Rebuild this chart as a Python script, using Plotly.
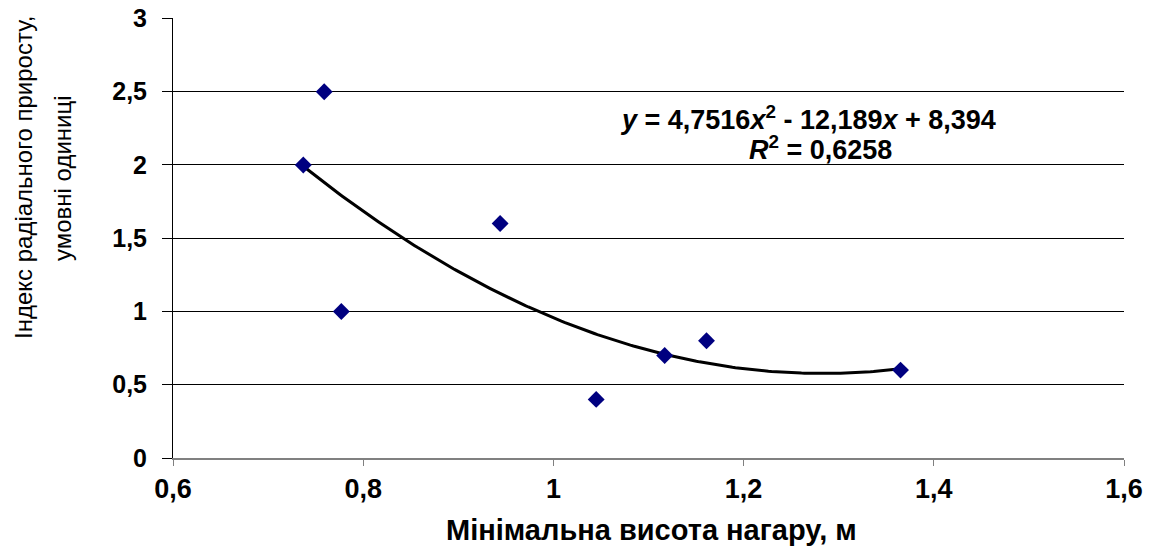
import numpy as np
import plotly.graph_objects as go

# Data
x_vals = [0.737, 0.759, 0.777, 0.944, 1.045, 1.117, 1.161, 1.365]
y_vals = [2.0, 2.5, 1.0, 1.6, 0.4, 0.7, 0.8, 0.6]

# Polynomial trendline coefficients shown on the chart (a, b, c)
trend_coef = [4.7516, -12.189, 8.394]
eq_line1 = "<i>y</i> = 4,7516<i>x</i><sup>2</sup> - 12,189<i>x</i> + 8,394"
eq_line2 = "<i>R</i><sup>2</sup> = 0,6258"

x_ticks = [0.6, 0.8, 1.0, 1.2, 1.4, 1.6]
x_ticklabels = ["0,6", "0,8", "1", "1,2", "1,4", "1,6"]
y_ticks = [0, 0.5, 1, 1.5, 2, 2.5, 3]
y_ticklabels = ["0", "0,5", "1", "1,5", "2", "2,5", "3"]

x_title = "Мінімальна висота нагару, м"
y_title_1 = "Індекс радіального приросту,"
y_title_2 = "умовні одиниці"

FONT = "Liberation Sans, Arial, sans-serif"

W, H = 1152, 547
L, R, T, B = 173, 28, 18, 89
PW, PH = W - L - R, H - T - B

tx = np.linspace(min(x_vals), max(x_vals), 200)
ty = np.polyval(trend_coef, tx)

fig = go.Figure()
fig.add_trace(go.Scatter(
    x=tx, y=ty, mode="lines",
    line=dict(color="black", width=3),
    hoverinfo="skip", showlegend=False,
))
fig.add_trace(go.Scatter(
    x=x_vals, y=y_vals, mode="markers",
    marker=dict(symbol="diamond", size=13, color="#000080",
                line=dict(width=0)),
    showlegend=False,
))

fig.update_layout(
    width=W, height=H,
    margin=dict(l=L, r=R, t=T, b=B),
    plot_bgcolor="white", paper_bgcolor="white",
    font=dict(family=FONT, color="black"),
    showlegend=False,
    xaxis=dict(
        range=[0.6, 1.6], tickvals=x_ticks, ticktext=x_ticklabels,
        showgrid=False, zeroline=False, automargin=False,
        showline=True, linecolor="#808080", linewidth=2,
        ticks="outside", ticklen=6, tickcolor="#808080", tickwidth=1,
        ticklabelstandoff=0, ticklabeloverflow="allow",
        tickfont=dict(family=FONT, size=27, color="black", weight="bold"),
    ),
    yaxis=dict(
        range=[0, 3.003], tickvals=y_ticks, ticktext=y_ticklabels,
        showgrid=True, gridcolor="black", gridwidth=1,
        zeroline=False, automargin=False,
        showline=True, linecolor="black", linewidth=1,
        ticks="outside", ticklen=10, tickcolor="black", tickwidth=1,
        ticklabelstandoff=10, ticklabeloverflow="allow",
        tickfont=dict(family=FONT, size=25, color="black", weight="bold"),
    ),
)

def py(pix):  # page y pixel -> paper fraction
    return (H - B - pix) / PH

def px(pix):  # page x pixel -> paper fraction
    return (pix - L) / PW

ann_font_b = dict(family=FONT, size=27, color="black", weight="bold")
fig.add_annotation(x=px(808), y=py(118), xref="paper", yref="paper", text=eq_line1,
                   showarrow=False, font=ann_font_b, xanchor="center", yanchor="middle")
fig.add_annotation(x=px(820), y=py(148), xref="paper", yref="paper", text=eq_line2,
                   showarrow=False, font=ann_font_b, xanchor="center", yanchor="middle")

fig.add_annotation(x=px(651), y=py(530), xref="paper", yref="paper", text=x_title,
                   showarrow=False, xanchor="center", yanchor="middle",
                   font=dict(family=FONT, size=29, color="black", weight="bold"))

fig.add_annotation(x=px(23), y=py(178), xref="paper", yref="paper",
                   text=y_title_1, textangle=-90, showarrow=False,
                   xanchor="center", yanchor="middle",
                   font=dict(family=FONT, size=24, color="black"))
fig.add_annotation(x=px(62), y=py(178), xref="paper", yref="paper",
                   text=y_title_2, textangle=-90, showarrow=False,
                   xanchor="center", yanchor="middle",
                   font=dict(family=FONT, size=24, color="black"))

fig.write_html("out.html", config={"displayModeBar": False},
               post_script="document.body.style.margin='0';")
